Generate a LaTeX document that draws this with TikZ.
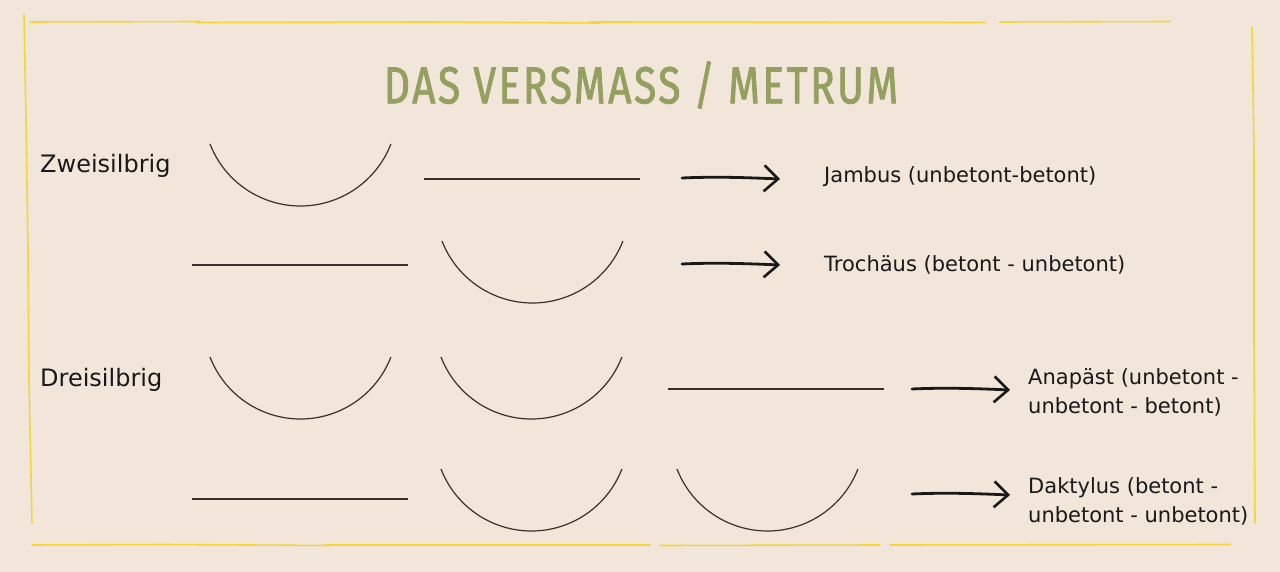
\documentclass[tikz,border=0pt]{standalone}
\usepackage{fontspec}
\setmainfont{DejaVu Sans}
\newfontfamily\titlefont{Fira Sans}[FakeStretch=0.78,FakeBold=1.6,LetterSpace=5]
\usetikzlibrary{arrows.meta}
\definecolor{bg}{HTML}{F2E6DA}
\definecolor{frame}{HTML}{F4D63C}
\definecolor{ink}{HTML}{3A302C}
\definecolor{olive}{HTML}{93A05F}
\tikzset{
  frameline/.style={draw=frame, line width=1.6pt, line cap=round, line join=round},
  longsyl/.style={draw=ink, line width=2pt},
  shortsyl/.style={draw=ink, line width=1.2pt},
  handarrow/.style={draw=black!90, line width=2.8pt, line cap=round,
    -{Straight Barb[length=14pt,width=26pt,line width=2.6pt]}},
  rowlabel/.style={font=\fontsize{24}{30}\selectfont, text=black!90, inner sep=0pt, anchor=base west},
  meaning/.style={font=\fontsize{21}{29}\selectfont, text=black!90, inner sep=0pt, anchor=base west, align=left},
}
\newcommand{\shortarc}[2]{\draw[shortsyl] (#1,#2) arc[start angle=158.85, end angle=21.15, radius=97];}
\begin{document}
\begin{tikzpicture}[x=1pt,y=-1pt]
\fill[bg] (0,0) rectangle (1280,572);
\useasboundingbox (0,0) rectangle (1280,572);
% frame
\draw[frameline] (30,22) -- (200,21.5) (196,22.5) -- (430,22) -- (600,23) (590,22) -- (985,22.5) (1000,22) -- (1170,21.5);
\draw[frameline] (24,15) -- (26,120) -- (28,250) -- (29,380) -- (32,523);
\draw[frameline] (1252,27) -- (1254,150) -- (1254,340) -- (1255,523);
\draw[frameline] (32,545) -- (165,544.5) -- (330,545.5) (325,545) -- (650,545) (660,545.5) -- (880,545) (890,545) -- (1230,544.5);
% title
\node[font=\titlefont\fontsize{52}{60}\selectfont, text=olive, inner sep=0pt] (title) at (641,85) {DAS VERSMASS / METRUM};
% row labels
\node[rowlabel] (zwei) at (40,173) {Zweisilbrig};
\node[rowlabel] (drei) at (40,386) {Dreisilbrig};
% Jambus
\shortarc{210}{144}
\draw[longsyl] (424,179) -- (640,179);
% Trochaeus
\draw[longsyl] (192,265) -- (408,265);
\shortarc{442}{241}
% Anapaest
\shortarc{210}{357}
\shortarc{441}{357}
\draw[longsyl] (668,389) -- (884,389);
% Daktylus
\draw[longsyl] (192,499) -- (408,499);
\shortarc{441}{469}
\shortarc{677}{469}
% meanings
\node[meaning] (jambus) at (824,183) {Jambus (unbetont-betont)};
\node[meaning] (trochaeus) at (824,272) {Trochäus (betont - unbetont)};
\node[meaning] (anapaest) at (1028,413) {Anapäst (unbetont -\\unbetont - betont)};
\node[meaning] (daktylus) at (1028,522) {Daktylus (betont -\\unbetont - unbetont)};
% arrows
\coordinate (a1s) at (682,178); \coordinate (a1e) at (780,179);
\coordinate (a2s) at (682,264); \coordinate (a2e) at (780,265);
\coordinate (a3s) at (912,389); \coordinate (a3e) at (1010,390);
\coordinate (a4s) at (912,494); \coordinate (a4e) at (1010,495);
\draw[handarrow] (a1s) .. controls (715,176.5) and (745,177.5) .. (a1e);
\draw[handarrow] (a2s) .. controls (715,262.5) and (745,263.5) .. (a2e);
\draw[handarrow] (a3s) .. controls (945,387.5) and (975,388.5) .. (a3e);
\draw[handarrow] (a4s) .. controls (945,492.5) and (975,493.5) .. (a4e);
\end{tikzpicture}
\end{document}
